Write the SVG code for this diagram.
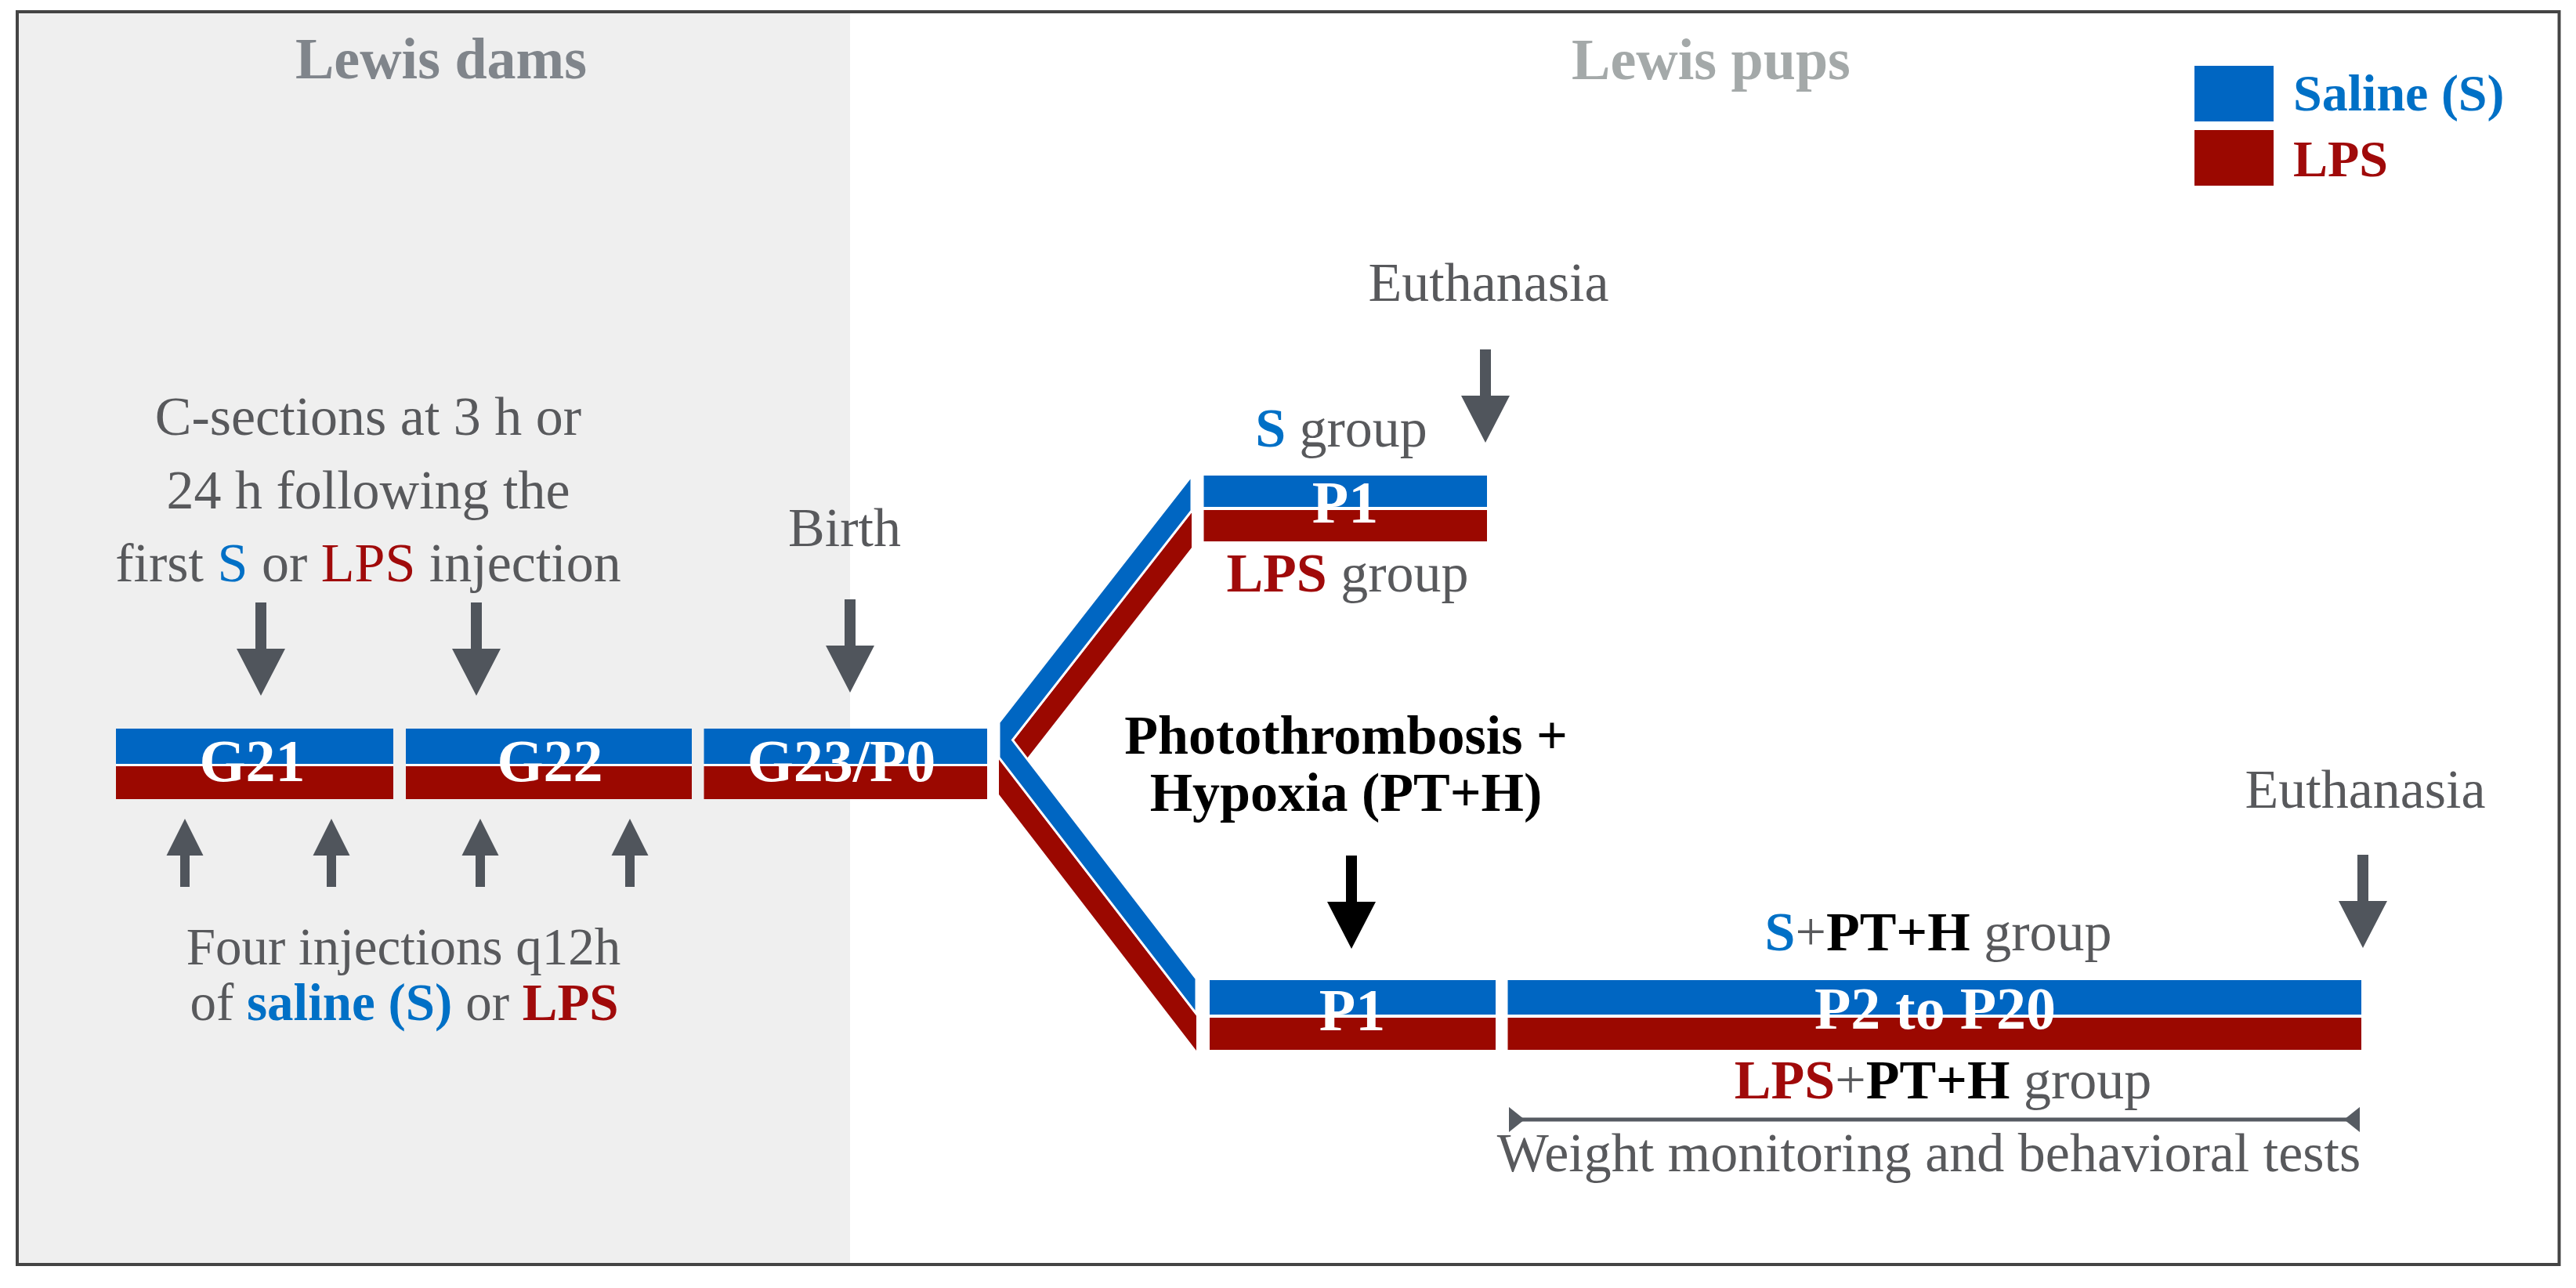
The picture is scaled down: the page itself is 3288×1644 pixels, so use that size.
<svg xmlns="http://www.w3.org/2000/svg" xmlns:xlink="http://www.w3.org/1999/xlink" width="3288" height="1644" viewBox="0 0 3288 1644">
  <style>
    text { font-family: "Liberation Serif", "Times New Roman", serif; }
    .reg { font-size: 70px; fill: #58595c; }
    .sm { font-size: 67px; }
    .ctr { text-anchor: middle; }
    .b { font-weight: bold; }
    .tb { fill: #0070c6; }
    .tr { fill: #a00a0a; }
    .tk { fill: #000000; }
    .head { font-size: 74px; font-weight: bold; text-anchor: middle; }
    .lbl { font-size: 76px; font-weight: bold; fill: #ffffff; text-anchor: middle; }
    .sal { fill: #0066c2; }
    .lps { fill: #9b0800; }
    .arr { fill: #50555c; }
    .arrk { fill: #000000; }
  </style>
  <defs>
    <path id="down" d="M-7,-119 H7 V-60 H31 L0,0 L-31,-60 H-7 Z"/>
    <path id="up" d="M0,0 L23.5,47 H6 V87 H-6 V47 H-23.5 Z"/>
  </defs>

  <rect x="0" y="0" width="3288" height="1644" fill="#ffffff"/>

  <g id="dams-panel">
    <rect x="22" y="15" width="1063" height="1599" fill="#efefef"/>
  </g>
  <rect id="frame" x="22" y="15" width="3244.5" height="1599" fill="none" stroke="#444444" stroke-width="4"/>

  <g id="titles">
    <text class="head" x="563" y="100" fill="#80858b">Lewis dams</text>
    <text class="head" x="2184" y="101" fill="#a4a9a9">Lewis pups</text>
  </g>

  <g id="legend">
    <rect class="sal" x="2801" y="84" width="101" height="71"/>
    <rect class="lps" x="2801" y="166" width="101" height="71"/>
    <text class="b tb" x="2927" y="141" font-size="66">Saline (S)</text>
    <text class="b tr" x="2927" y="225" font-size="66">LPS</text>
  </g>

  <g id="csection-note">
    <text class="reg ctr" x="470" y="555">C-sections at 3 h or</text>
    <text class="reg ctr" x="470" y="649">24 h following the</text>
    <text class="reg ctr" x="470" y="742">first <tspan class="tb">S</tspan> or <tspan class="tr">LPS</tspan> injection</text>
  </g>

  <g id="injection-note">
    <text class="reg sm ctr" x="515" y="1231">Four injections q12h</text>
    <text class="reg sm ctr" x="516" y="1302">of <tspan class="b tb">saline (S)</tspan> or <tspan class="b tr">LPS</tspan></text>
  </g>

  <g id="bar-G21">
    <rect x="148" y="930" width="354" height="90" fill="#ffffff"/>
    <rect class="sal" x="148" y="930" width="354" height="45"/>
    <rect class="lps" x="148" y="978" width="354" height="42"/>
    <text class="lbl" x="322" y="997">G21</text>
  </g>
  <g id="bar-G22">
    <rect x="518" y="930" width="365" height="90" fill="#ffffff"/>
    <rect class="sal" x="518" y="930" width="365" height="45"/>
    <rect class="lps" x="518" y="978" width="365" height="42"/>
    <text class="lbl" x="702" y="997">G22</text>
  </g>
  <g id="bar-G23P0">
    <rect x="898.5" y="930" width="361.5" height="90" fill="#ffffff"/>
    <rect class="sal" x="898.5" y="930" width="361.5" height="45"/>
    <rect class="lps" x="898.5" y="978" width="361.5" height="42"/>
    <text class="lbl" x="1074" y="997">G23/P0</text>
  </g>

  <g id="birth">
    <text class="reg ctr" x="1078" y="697">Birth</text>
  </g>

  <g id="branch">
    <polygon class="lps" points="1275,969 1521,654 1521,699 1292.5,991.6 1527,1296 1527,1341 1275,1014"/>
    <polygon class="sal" points="1275,922 1521,607 1521,652 1292.5,944.6 1527,1249 1527,1294 1275,967" stroke="#ffffff" stroke-width="3"/>
  </g>

  <g id="bar-P1-upper">
    <rect x="1536.5" y="607" width="361.5" height="84" fill="#ffffff"/>
    <rect class="sal" x="1536.5" y="607" width="361.5" height="40"/>
    <rect class="lps" x="1536.5" y="651" width="361.5" height="40"/>
    <text class="lbl" x="1717" y="667">P1</text>
  </g>
  <g id="upper-labels">
    <text class="reg ctr" x="1712" y="570"><tspan class="b tb">S</tspan> group</text>
    <text class="reg ctr" x="1720" y="755"><tspan class="b tr">LPS</tspan> group</text>
    <text class="reg ctr" x="1900" y="384">Euthanasia</text>
  </g>

  <g id="pth-label">
    <text class="reg b tk ctr" x="1718" y="962">Photothrombosis +</text>
    <text class="reg b tk ctr" x="1718" y="1035">Hypoxia (PT+H)</text>
  </g>

  <g id="bar-P1-lower">
    <rect x="1544" y="1251" width="365" height="89" fill="#ffffff"/>
    <rect class="sal" x="1544" y="1251" width="365" height="44"/>
    <rect class="lps" x="1544" y="1299" width="365" height="41"/>
    <text class="lbl" x="1726" y="1315">P1</text>
  </g>
  <g id="bar-P2-P20">
    <rect x="1924.5" y="1251" width="1089.5" height="89" fill="#ffffff"/>
    <rect class="sal" x="1924.5" y="1251" width="1089.5" height="44"/>
    <rect class="lps" x="1924.5" y="1299" width="1089.5" height="41"/>
    <text class="lbl" x="2470" y="1313">P2 to P20</text>
  </g>
  <g id="lower-labels">
    <text class="reg ctr" x="2474" y="1213"><tspan class="b tb">S</tspan>+<tspan class="b tk">PT+H</tspan> group</text>
    <text class="reg ctr" x="2480" y="1402"><tspan class="b tr">LPS</tspan>+<tspan class="b tk">PT+H</tspan> group</text>
    <text class="reg ctr" x="3019" y="1031">Euthanasia</text>
    <text class="reg ctr" x="2462" y="1495" font-size="66">Weight monitoring and behavioral tests</text>
  </g>

  <g id="connectors">
    <use href="#down" xlink:href="#down" class="arr" x="333" y="888"/>
    <use href="#down" xlink:href="#down" class="arr" x="608" y="888"/>
    <use href="#down" xlink:href="#down" class="arr" x="1085" y="884"/>
    <use href="#down" xlink:href="#down" class="arr" x="1896" y="565"/>
    <use href="#down" xlink:href="#down" class="arr" x="3016" y="1210"/>
    <use href="#down" xlink:href="#down" class="arrk" x="1725" y="1211"/>
    <use href="#up" xlink:href="#up" class="arr" x="236" y="1045"/>
    <use href="#up" xlink:href="#up" class="arr" x="423" y="1045"/>
    <use href="#up" xlink:href="#up" class="arr" x="613" y="1045"/>
    <use href="#up" xlink:href="#up" class="arr" x="804" y="1045"/>
    <line x1="1930" y1="1429" x2="3008" y2="1429" stroke="#565b62" stroke-width="5"/>
    <polygon points="1926,1413 1926,1445 1946,1429" fill="#565b62"/>
    <polygon points="3012,1413 3012,1445 2992,1429" fill="#565b62"/>
  </g>
</svg>
